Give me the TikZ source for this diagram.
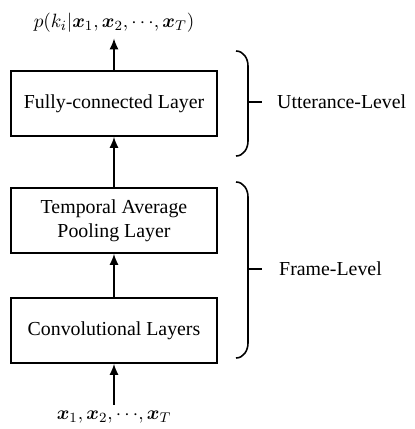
\documentclass[tikz,border=0pt]{standalone}
\usepackage{fontspec}
\setmainfont{Liberation Serif}
\usepackage{amsmath,bm}
\usetikzlibrary{arrows.meta,positioning}

\begin{document}
\begin{tikzpicture}[
    font=\fontsize{11.3}{13.4}\selectfont,
    layer/.style={draw, line width=0.9pt, minimum width=4.12cm, minimum height=1.3cm, align=center},
    arrow/.style={-{Latex[length=2.2mm, width=1.8mm]}, line width=0.9pt},
    brace/.style={line width=0.9pt},
    level/.style={anchor=west}
]
\useasboundingbox (0,0) rectangle (8.28,-8.58);

\def\cx{2.28}
\node[layer] (fc) at (\cx, -2.07) {Fully-connected Layer};
\node[layer] (pool) at (\cx, -4.41) {Temporal Average\\Pooling Layer};
\node[layer] (conv) at (\cx, -6.61) {Convolutional Layers};

\node (out) at (\cx, -0.45) {$p(k_i|\bm{x}_1,\bm{x}_2,{\cdots},\bm{x}_T)$};
\node (in) at (\cx, -8.34) {$\bm{x}_1,\bm{x}_2,{\cdots},\bm{x}_T$};

\draw[arrow] (in) -- (conv);
\draw[arrow] (conv) -- (pool);
\draw[arrow] (pool) -- (fc);
\draw[arrow] (fc) -- (out);

% braces on the right
\draw[brace] (4.72,-1.02) to[out=0,in=90] (4.96,-1.32) -- (4.96,-2.82) to[out=-90,in=0] (4.72,-3.12);
\draw[brace] (4.96,-2.04) -- (5.24,-2.04);
\node[level] (utt) at (5.42,-2.04) {Utterance-Level};

\draw[brace] (4.72,-3.64) to[out=0,in=90] (4.96,-3.94) -- (4.96,-6.86) to[out=-90,in=0] (4.72,-7.16);
\draw[brace] (4.96,-5.38) -- (5.24,-5.38);
\node[level] (frame) at (5.46,-5.38) {Frame-Level};
\end{tikzpicture}
\end{document}
